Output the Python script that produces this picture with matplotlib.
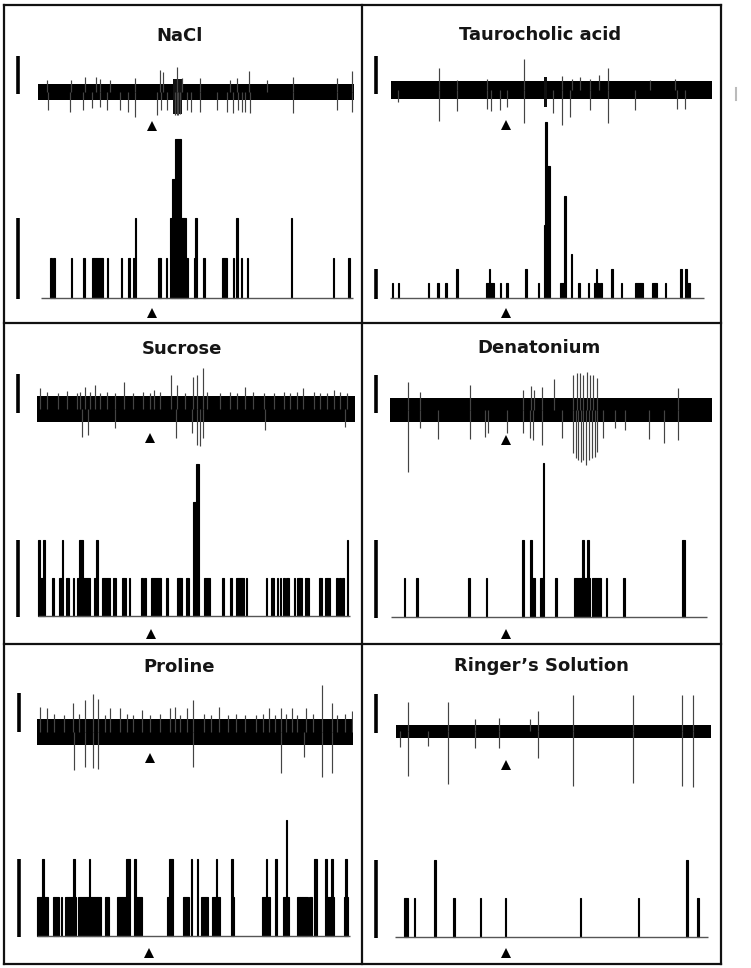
import matplotlib
matplotlib.use("Agg")
import matplotlib.pyplot as plt

W, H = 751, 968
plt.rcParams['font.family'] = ['DejaVu Sans']

titles = ["NaCl", "Taurocholic acid", "Sucrose", "Denatonium", "Proline", "Ringer\u2019s Solution"]

# ---------------- histogram data (bin index, spike count) ----------------
nacl_bins = [6, 8, 19, 27, 33, 34, 35, 36, 37, 38, 39, 42, 51, 56, 59, 60, 75, 76, 80,
             83, 84, 85, 86, 87, 88, 89, 90, 91, 92, 93, 98, 99, 104, 116, 117, 118,
             123, 125, 128, 132, 160, 187, 197]
nacl_counts = [1, 1, 1, 1, 1, 1, 1, 1, 1, 1, 1, 1, 1, 1, 1, 2, 1, 1, 1,
               2, 3, 3, 4, 4, 4, 4, 2, 2, 2, 1, 1, 2, 1, 1, 1, 1,
               1, 2, 1, 1, 2, 1, 1]

tauro_bins = [1, 5, 24, 30, 35, 42, 61, 62, 63, 64, 65, 70, 74, 86, 94, 98, 99, 100, 101,
              108, 109, 110, 111, 115, 120, 126, 130, 131, 132, 134, 141, 147,
              156, 157, 158, 159, 160, 167, 168, 169, 175, 185, 188, 189, 190]
tauro_counts = [1, 1, 1, 1, 1, 2, 1, 1, 2, 1, 1, 1, 1, 2, 1, 5, 12, 9, 9,
                1, 1, 1, 7, 3, 1, 1, 1, 2, 1, 1, 2, 1,
                1, 1, 1, 1, 1, 1, 1, 1, 1, 2, 2, 1, 1]

sucrose_bins = [0, 1, 2, 3, 9, 13, 14, 15, 18, 19, 22, 25, 26, 27, 28, 29, 30, 31, 32,
                36, 37, 41, 42, 43, 44, 45, 48, 49, 54, 55, 58, 66, 68,
                72, 73, 74, 75, 76, 77, 78, 82, 89, 90, 91, 95, 96, 99, 100, 101, 102,
                106, 107, 108, 109, 118, 123, 127, 128, 129, 130, 131, 133,
                146, 149, 150, 153, 155, 157, 159, 160, 164, 166, 167, 168, 171, 172, 173,
                180, 181, 184, 185, 186, 191, 193, 195, 198]
sucrose_counts = [2, 1, 1, 2, 1, 1, 1, 2, 1, 1, 1, 1, 2, 2, 2, 1, 1, 1, 1,
                  1, 2, 1, 1, 1, 1, 1, 1, 1, 1, 1, 1, 1, 1,
                  1, 1, 1, 1, 1, 1, 1, 1, 1, 1, 1, 1, 1, 3, 3, 4, 4,
                  1, 1, 1, 1, 1, 1, 1, 1, 1, 1, 1, 1,
                  1, 1, 1, 1, 1, 1, 1, 1, 1, 1, 1, 1, 1, 1, 1,
                  1, 1, 1, 1, 1, 1, 1, 1, 2]

denat_bins = [8, 16, 49, 60, 83, 88, 89, 90, 94, 95, 96, 104,
              116, 117, 118, 119, 120, 121, 122, 123, 124, 125,
              127, 128, 129, 130, 131, 132, 136, 147, 184, 185]
denat_counts = [1, 1, 1, 1, 2, 2, 1, 1, 1, 1, 4, 1,
                1, 1, 1, 1, 1, 2, 1, 1, 2, 1,
                1, 1, 1, 1, 1, 1, 1, 1, 2, 2]

proline_bins = [0, 1, 2, 3, 4, 5, 6, 10, 11, 12, 13, 15, 18, 19, 20, 21, 22, 23, 24,
                26, 27, 28, 29, 30, 31, 32, 33, 34, 35, 36, 37, 38, 39, 40, 43, 44, 45,
                51, 52, 53, 54, 55, 56, 57, 58, 62, 63, 64, 65, 66,
                83, 84, 85, 86, 93, 94, 95, 96, 98, 102, 105, 106, 107, 108,
                112, 113, 114, 115, 116, 124, 125, 144, 145, 146, 147, 148, 152,
                157, 158, 159, 160, 166, 167, 168, 169, 170, 171, 172, 174, 175, 177, 178,
                184, 185, 186, 187, 188, 189, 196, 197, 198]
proline_counts = [1, 1, 1, 2, 1, 1, 1, 1, 1, 1, 1, 1, 1, 1, 1, 1, 1, 2, 1,
                  1, 1, 1, 1, 1, 1, 1, 2, 1, 1, 1, 1, 1, 1, 1, 1, 1, 1,
                  1, 1, 1, 1, 1, 1, 2, 2, 2, 1, 1, 1, 1,
                  1, 2, 2, 2, 1, 1, 1, 1, 2, 2, 1, 1, 1, 1,
                  1, 1, 2, 1, 1, 2, 1, 1, 1, 2, 1, 1, 2,
                  1, 1, 3, 1, 1, 1, 1, 1, 1, 1, 1, 1, 1, 2, 2,
                  2, 1, 1, 1, 2, 1, 1, 2, 1]

ringer_bins = [6, 7, 12, 25, 37, 54, 70, 118, 155, 186, 193]
ringer_counts = [1, 1, 1, 2, 1, 1, 1, 1, 1, 2, 1]

# ---------------- extracellular trace data (time, spike amplitude; + up, - down) ----------------
nacl_spike_t = [5.5, 20.9, 29.7, 37, 39, 45.6, 61.4, 77, 79, 88.2, 91, 102.5, 121.5, 126, 133.8,
                144.7, 161.6, 189, 198.6,
                6.5, 20.3, 28.7, 34, 39, 43.5, 52, 56.8, 61.4, 75, 78, 81.4, 86.7, 87.8, 88.9,
                90, 94, 97, 102.5, 113, 119.4, 123.6, 126.8, 129, 131, 134, 161.6, 189, 198.6]
nacl_spike_amp = [12, 12, 14.7, 15, 13, 12, 13.7, 22, 20, 25, 14, 13.7, 12, 13.7, 21,
                  12, 15, 13.7, 21,
                  -18, -19.7, -18, -16, -15, -18, -18, -19.7, -24.7, -23, -18, -18, -23, -23, -23,
                  -22, -18, -19.7, -19.7, -18, -19.7, -21, -18, -19.7, -19.7, -21, -21, -18, -19.7]
# dense burst (start, end, upper, lower)
nacl_burst = (85.5, 91.0, 13.0, -22.0)

tauro_spike_t = [30, 41, 59.7, 83.1, 106.3, 112.6, 117.7, 124, 129.8, 135.4, 161.3, 176.8,
                 4.8, 30, 41, 59.7, 62.2, 68, 72.1, 83.1, 101.2, 106.3, 111.5, 124, 135.4,
                 152, 177.9, 183]
tauro_spike_amp = [22, 10, 11, 31, 14.3, 11, 13, 11, 15.3, 22, 10, 11,
                   -11.3, -30.3, -20.3, -19, -20.3, -19.7, -17, -33, -23, -34.7, -26.3,
                   -19.7, -32.3, -19.7, -19, -19]
tauro_burst = (95.2, 97.0, 13.0, -16.3)

sucrose_spike_t = [1.7, 30, 36.3, 54.6, 73.5, 84.2, 87.7, 98.2, 100.3, 104.1, 130.8, 167.5, 187,
                   5.9, 13.2, 18.5, 24.8, 26.9, 33.2, 39.5, 43.7, 49, 60.4, 66.8, 71, 77.3, 93,
                   106.7, 115, 121.4, 125.6, 136, 142.4, 148.7, 155, 159.2, 163.4, 173.9, 178.1,
                   182.3, 190.7, 194.9,
                   27.9, 32.1, 48.9, 87.3, 97.2, 100.3, 102.4, 104.5, 143.4, 193.7]
sucrose_spike_amp = [21, 22.7, 24.3, 27.7, 19.3, 34.3, 24.3, 32.7, 34.3, 41, 22.7, 21, 19.3,
                     17, 16, 18, 16, 17, 17, 16, 17, 16, 16, 17, 16, 17, 16,
                     17, 16, 17, 16, 17, 16, 16, 17, 16, 17, 17, 16,
                     16, 17, 16,
                     -28, -25.7, -19, -29, -24, -35.7, -36.7, -29, -20.7, -18]
sucrose_burst = None

denat_spike_t = [11, 18.7, 49.8, 82.9, 87.5, 89.6, 94.3, 102, 114, 116.1, 118.2, 120.2, 122.3,
                 124.4, 126.5, 128.5, 179.3,
                 11, 18.7, 29.6, 49.8, 59.1, 61.2, 72.6, 82.9, 87.1, 89.1, 94.3, 106.8, 114,
                 115.7, 117.1, 118.8, 120.2, 121.8, 123.5, 125.4, 127.5, 128.9, 132.3, 139.9,
                 146.1, 161.3, 170.4, 179.3]
denat_spike_amp = [28.3, 18, 25, 20, 24, 20, 23.3, 30.7, 35, 36.7, 36.7, 35, 38.3,
                   35, 35, 31.7, 21.7,
                   -61.7, -18.3, -29.3, -29.3, -26.7, -23.3, -23.3, -23.3, -28.3, -30, -35,
                   -28.3, -43.3, -48.3, -50, -51.7, -50, -55, -50, -48.3, -46.7, -41.7, -28.3,
                   -18.3, -20, -29.3, -33.3, -30]
denat_burst = None

proline_spike_t = [2.1, 6.3, 23.2, 30.6, 35.4, 39, 46.4, 52.8, 66.5, 84.4, 87.6, 95, 99.2,
                   115.6, 147.3, 154.5, 161.4, 170.5, 180.4, 186.7, 199.4,
                   11, 17, 27, 43, 57, 61, 72, 78, 91, 106, 110, 121, 126, 132, 139, 143,
                   151, 158, 165, 175, 190, 195,
                   23.6, 30.6, 35.9, 39, 99.2, 154.5, 169.2, 180.4, 186.7]
proline_spike_amp = [25.3, 23.7, 28.7, 32, 38, 32.7, 23.7, 23.7, 22, 23.7, 25.3, 23.7, 32,
                     25.3, 23.7, 24.3, 23.7, 23.7, 47, 29.3, 21,
                     18, 17, 18, 17, 18, 17, 17, 18, 17, 18, 17, 17, 18, 17, 17, 18,
                     17, 18, 17, 18, 17, 18,
                     -38, -35.3, -36.3, -37.3, -35.3, -41.3, -24.7, -44.7, -41.3]
proline_burst = None

ringer_spike_t = [7.4, 33.2, 50.1, 65.6, 85, 89.9, 112.6, 150.2, 181.3, 188.8,
                  2.5, 7.4, 20.5, 33.2, 50.1, 65.6, 89.9, 112.6, 150.2, 181.3, 188.8]
ringer_spike_amp = [29.3, 29.3, 11.7, 12.7, 11.7, 20, 36, 36, 36, 36,
                    -16.3, -45, -15, -53, -17.3, -17.3, -27.3, -55, -52.3, -55, -55.7]
ringer_burst = None

# background noise half-width of each recording (same units as spike amplitude)
noise_halfwidth = [7.8, 9.0, 13.0, 12.0, 13.0, 6.5]

hist_data = [(nacl_bins, nacl_counts), (tauro_bins, tauro_counts), (sucrose_bins, sucrose_counts),
             (denat_bins, denat_counts), (proline_bins, proline_counts), (ringer_bins, ringer_counts)]
trace_data = [(nacl_spike_t, nacl_spike_amp, nacl_burst), (tauro_spike_t, tauro_spike_amp, tauro_burst),
              (sucrose_spike_t, sucrose_spike_amp, sucrose_burst), (denat_spike_t, denat_spike_amp, denat_burst),
              (proline_spike_t, proline_spike_amp, proline_burst), (ringer_spike_t, ringer_spike_amp, ringer_burst)]

# ---------------- layout (pixels) ----------------
layout = [
    dict(title=(180, 36), trace=(38, 354, 92), hist=(41, 353, 298, 39.8, 4.3),
         tri_t=(152, 126), tri_h=(152, 313), sb_x=18, sb_t=(56, 94)),
    dict(title=(540, 35), trace=(390.7, 712.3, 90.3), hist=(390, 704, 298, 14.63, 12.6),
         tri_t=(505.7, 125), tri_h=(505.7, 313.3), sb_x=376, sb_t=(56, 94)),
    dict(title=(181.7, 349), trace=(37.3, 355, 409.3), hist=(38.3, 350, 616, 38.0, 4.3),
         tri_t=(150, 438.3), tri_h=(150.7, 634.3), sb_x=18, sb_t=(374.3, 413.3)),
    dict(title=(539, 348), trace=(390, 711.7, 410), hist=(391, 707, 616.7, 38.5, 4.3),
         tri_t=(505.7, 440), tri_h=(505.7, 634.3), sb_x=376, sb_t=(375, 413)),
    dict(title=(179, 667), trace=(36.7, 352.7, 732), hist=(37.3, 350, 935.7, 38.6, 4.3),
         tri_t=(150, 758.3), tri_h=(149, 953.3), sb_x=19, sb_t=(693.3, 731.7)),
    dict(title=(541.7, 666), trace=(396, 711, 731), hist=(395, 708.3, 936.7, 38.5, 4.3),
         tri_t=(505.7, 765), tri_h=(505.7, 953.3), sb_x=376, sb_t=(694.3, 733.3)),
]


def px_rect(x0, y0, x1, y1):
    return [x0 / W, 1 - y1 / H, (x1 - x0) / W, (y1 - y0) / H]


fig = plt.figure(figsize=(W / 100, H / 100), dpi=100)
fig.patch.set_facecolor('white')

overlay = fig.add_axes([0, 0, 1, 1])
overlay.set_xlim(0, W)
overlay.set_ylim(H, 0)
overlay.axis('off')

# panel frames
frame_kw = dict(color='#111111', lw=1.6, solid_capstyle='projecting')
xs = [4, 361.5, 720.5]
ys = [5, 323, 643.5, 963.5]
for x in xs:
    overlay.plot([x, x], [ys[0], ys[-1]], **frame_kw)
for y in ys:
    overlay.plot([xs[0], xs[-1]], [y, y], **frame_kw)

TRACE_SPAN = 200.0
for i, lay in enumerate(layout):
    # title
    overlay.text(lay['title'][0], lay['title'][1], titles[i], ha='center', va='center',
                 fontsize=13.0, fontweight='bold', color='#151515')

    # trace
    x0, x1, yc = lay['trace']
    axt = fig.add_axes(px_rect(x0, yc - 70, x1, yc + 70))
    axt.set_xlim(0, TRACE_SPAN)
    axt.set_ylim(-70, 70)
    axt.axis('off')
    hw = noise_halfwidth[i]
    axt.fill_between([0, TRACE_SPAN], -hw, hw, color='black', lw=0)
    st, sa, burst = trace_data[i]
    axt.vlines(st, 0, sa, color='#444444', lw=0.85)
    if burst is not None:
        axt.fill_between([burst[0], burst[1]], burst[3], burst[2], color='#111111', lw=0)

    # histogram
    hx0, hx1, base, unit, ymax = lay['hist']
    axh = fig.add_axes(px_rect(hx0, base - ymax * unit, hx1, base))
    axh.set_xlim(0, TRACE_SPAN)
    axh.set_ylim(0, ymax)
    axh.axis('off')
    axh.plot([0, TRACE_SPAN], [0, 0], color='#555555', lw=1.0, solid_capstyle='butt',
             clip_on=False)
    b, c = hist_data[i]
    axh.bar(b, c, width=1.0, align='edge', color='black', edgecolor='black', linewidth=0.8,
            clip_on=False)

    # scale bars
    overlay.plot([lay['sb_x'], lay['sb_x']], lay['sb_t'], color='black', lw=2.6,
                 solid_capstyle='butt')
    overlay.plot([lay['sb_x'], lay['sb_x']], [base - 2 * unit, base + 1], color='black', lw=2.6,
                 solid_capstyle='butt')

    # stimulus markers
    overlay.plot(*lay['tri_t'], marker='^', color='black', ms=7.5, mew=0)
    overlay.plot(*lay['tri_h'], marker='^', color='black', ms=7.5, mew=0)

# faint mark at right margin
overlay.plot([736, 736], [88, 100], color='#bbbbbb', lw=1.5)

fig.savefig('out.png', dpi=100, facecolor='white')
